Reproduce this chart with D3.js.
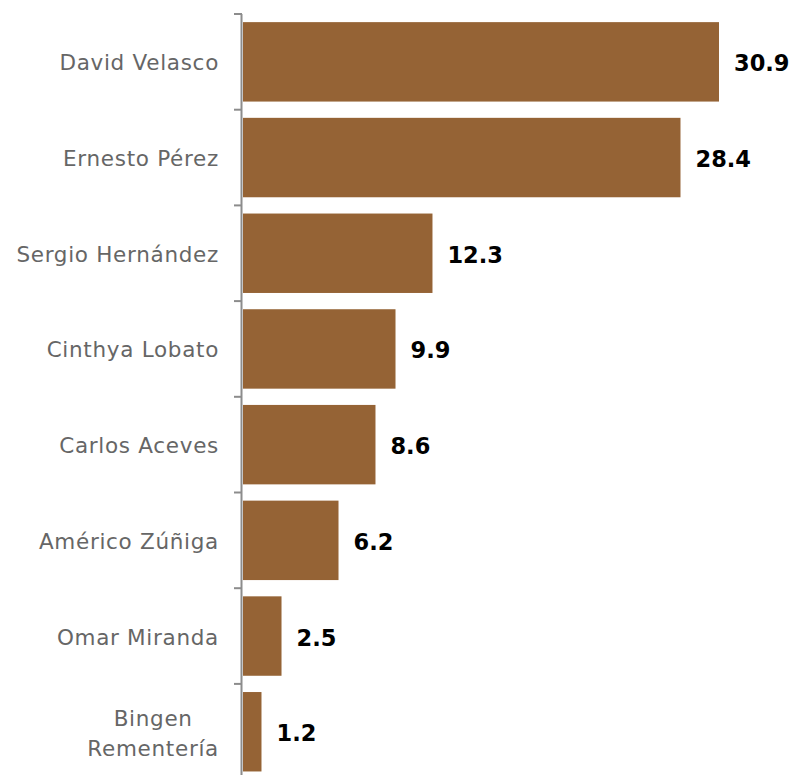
<!DOCTYPE html>
<html><head><meta charset="utf-8">
<script src="https://cdn.jsdelivr.net/npm/d3@7"></script>
<style>body{margin:0;background:#fff}svg{display:block}</style>
</head><body>
<script>
const categories = ["David Velasco","Ernesto Pérez","Sergio Hernández","Cinthya Lobato","Carlos Aceves","Américo Zúñiga","Omar Miranda","Bingen Rementería"];
const values = [30.9,28.4,12.3,9.9,8.6,6.2,2.5,1.2];

const W=790,H=775;
const svg=d3.select("body").append("svg").attr("width",W).attr("height",H);
const x=d3.scaleLinear().domain([0,30.9]).range([243,719]);
const y=d3.scaleBand().domain(categories).range([14,14+95.7*8]).paddingInner(0.17).paddingOuter(0.085);

svg.selectAll("rect.bar").data(values).enter().append("rect")
 .attr("x",x(0)).attr("y",(d,i)=>y(categories[i]))
 .attr("width",d=>x(d)-x(0)).attr("height",y.bandwidth())
 .attr("fill","#956335");

// axis
const step=95.7;
const g=svg.append("g");
g.append("line").attr("x1",241.5).attr("x2",241.5).attr("y1",14).attr("y2",H).attr("stroke","#8c8c8c").attr("stroke-width",2);
d3.range(9).forEach(k=>{
  g.append("line").attr("x1",234).attr("x2",242).attr("y1",14+k*step).attr("y2",14+k*step).attr("stroke","#8c8c8c").attr("stroke-width",2);
});

const labFont="'DejaVu Sans', sans-serif";
// category labels
categories.forEach((c,i)=>{
  const cy=y(c)+y.bandwidth()/2;
  const t=svg.append("text").attr("x",219).attr("text-anchor","end")
   .attr("font-family",labFont).attr("font-size",21.5).attr("letter-spacing",0.7).attr("fill","#666");
  if(c==="Bingen Rementería"){
    const t2=t.append("tspan").attr("x",219).attr("y",cy+24).text("Rementería");
    const w=t2.node().getComputedTextLength();
    t.attr("text-anchor","middle");
    t2.attr("x",219-w/2);
    t.insert("tspan","tspan").attr("x",219-w/2).attr("y",cy-6).text("Bingen");
  } else {
    t.attr("y",cy+8.5).text(c);
  }
});

// value labels
values.forEach((v,i)=>{
  svg.append("text").attr("x",x(v)+15).attr("y",y(categories[i])+y.bandwidth()/2+9.5)
   .attr("font-family",labFont).attr("font-weight","bold").attr("font-size",22.5).attr("fill","#000")
   .text(v.toFixed(1));
});
</script>
</body></html>
